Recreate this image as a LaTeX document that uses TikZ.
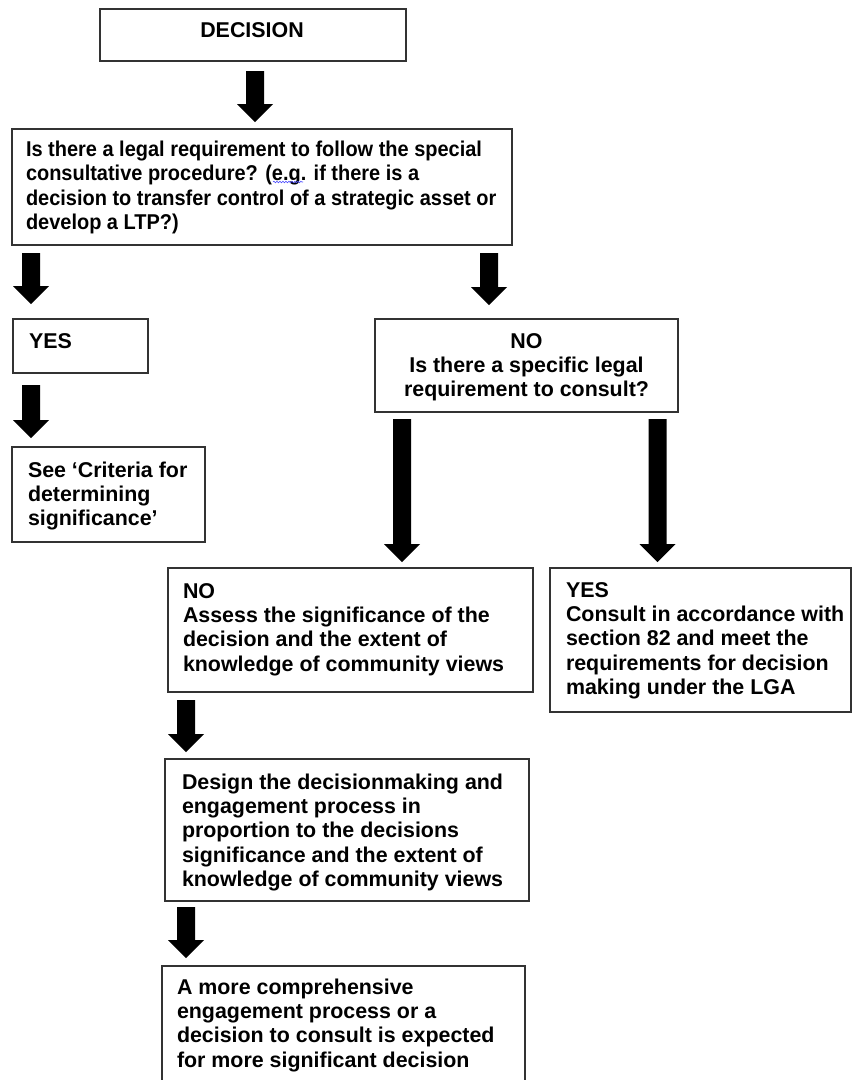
\documentclass[tikz,border=0pt]{standalone}
\usepackage{fontspec}
\setmainfont{Liberation Sans}
\usetikzlibrary{calc,decorations.pathmorphing}
\begin{document}
\begin{tikzpicture}[x=1pt,y=-1pt,
  box/.style={draw=black!80,line width=1.3pt,fill=none,rectangle,inner sep=0pt,outer sep=0pt,anchor=north west},
  txt/.style={font=\fontsize{21.4}{24.4}\selectfont\bfseries,align=left,inner sep=0pt,outer sep=0pt,anchor=north west,text=black},
  qtxt/.style={txt,font=\fontsize{21.4}{24.6}\selectfont\bfseries},
  ctxt/.style={txt,align=center,anchor=north},
  blk/.style={fill=black,to path={let \p1=(\tikztostart), \p2=(\tikztotarget) in
     (\x1-9pt,\y1) -- (\x1+9pt,\y1) -- (\x1+9pt,\y2+18pt) -- (\x1+18pt,\y2+18pt) -- (\x1,\y2)
     -- (\x1-18pt,\y2+18pt) -- (\x1-9pt,\y2+18pt) -- cycle}}
]
\useasboundingbox (0,0) rectangle (852,1080);
\clip (0,0) rectangle (852,1080);
\fill[white] (0,0) rectangle (852,1080);

% boxes
\node[box,minimum width=306pt,minimum height=52pt] (dec) at (100,9) {};
\node[box,minimum width=500pt,minimum height=116pt] (q) at (12,129) {};
\node[box,minimum width=135pt,minimum height=54pt] (yes1) at (13,319) {};
\node[box,minimum width=193pt,minimum height=95pt] (see) at (12,447) {};
\node[box,minimum width=303pt,minimum height=93pt] (no1) at (375,319) {};
\node[box,minimum width=365pt,minimum height=124pt] (no2) at (168,568) {};
\node[box,minimum width=301pt,minimum height=144pt] (yes2) at (550,568) {};
\node[box,minimum width=364pt,minimum height=142pt] (design) at (165,759) {};
\node[box,minimum width=363pt,minimum height=140pt] (final) at (162,966) {};

% texts
\node[txt,anchor=base] (tdec) at (252,37) {DECISION};
\node[qtxt] (tq) at (26,138) {\scalebox{0.933}[1]{\begin{tabular}{@{}l@{}}\rule{0pt}{18pt}Is there a legal requirement to follow the special\\
consultative procedure? (e.g. if there is a\\
decision to transfer control of a strategic asset or\\
develop a LTP?)\end{tabular}}};
\node[txt,anchor=base west] (tyes1) at (29,348) {YES};
\node[txt] (tsee) at (28,459) {\rule{0pt}{18pt}See `Criteria for\\determining\\significance'};
\node[ctxt] (tno1) at (526.5,330) {\rule{0pt}{18pt}NO\\Is there a specific legal\\requirement to consult?};
\node[txt] (tno2) at (183,580) {\rule{0pt}{18pt}NO\\Assess the significance of the\\decision and the extent of\\knowledge of community views};
\node[txt] (tyes2) at (566,579) {\rule{0pt}{18pt}YES\\Consult in accordance with\\section 82 and meet the\\requirements for decision\\making under the LGA};
\node[txt] (tdesign) at (182,771) {\rule{0pt}{18pt}Design the decisionmaking and\\engagement process in\\proportion to the decisions\\significance and the extent of\\knowledge of community views};
\node[txt] (tfinal) at (177,976) {\rule{0pt}{18pt}A more comprehensive\\engagement process or a\\decision to consult is expected\\for more significant decision};

% block arrows
\fill[blk] ([xshift=155pt,yshift=-10pt]dec.south west) to ([yshift=7pt]q.north);
\fill[blk] ([xshift=19pt,yshift=-8pt]q.south west) to ([yshift=15pt]yes1.north);
\fill[blk] ([xshift=477pt,yshift=-8pt]q.south west) to ([yshift=14pt]no1.north);
\fill[blk] ([xshift=18pt,yshift=-12pt]yes1.south west) to ([yshift=9pt]see.north);
\fill[blk] ([xshift=27pt,yshift=-7pt]no1.south west) to ([yshift=6pt]no2.north);
\fill[blk] ([xshift=282.5pt,yshift=-7pt]no1.south west) to ([yshift=6pt]yes2.north);
\fill[blk] ([xshift=18pt,yshift=-8pt]no2.south west) to ([yshift=7pt]design.north);
\fill[blk] ([xshift=21pt,yshift=-6pt]design.south west) to ([yshift=8pt]final.north);

% spell-check squiggle under e.g.
\draw[blue!70,line width=0.6pt,decorate,decoration={snake,amplitude=0.8pt,segment length=3pt}] (273,182) -- (303,182);
\end{tikzpicture}
\end{document}
